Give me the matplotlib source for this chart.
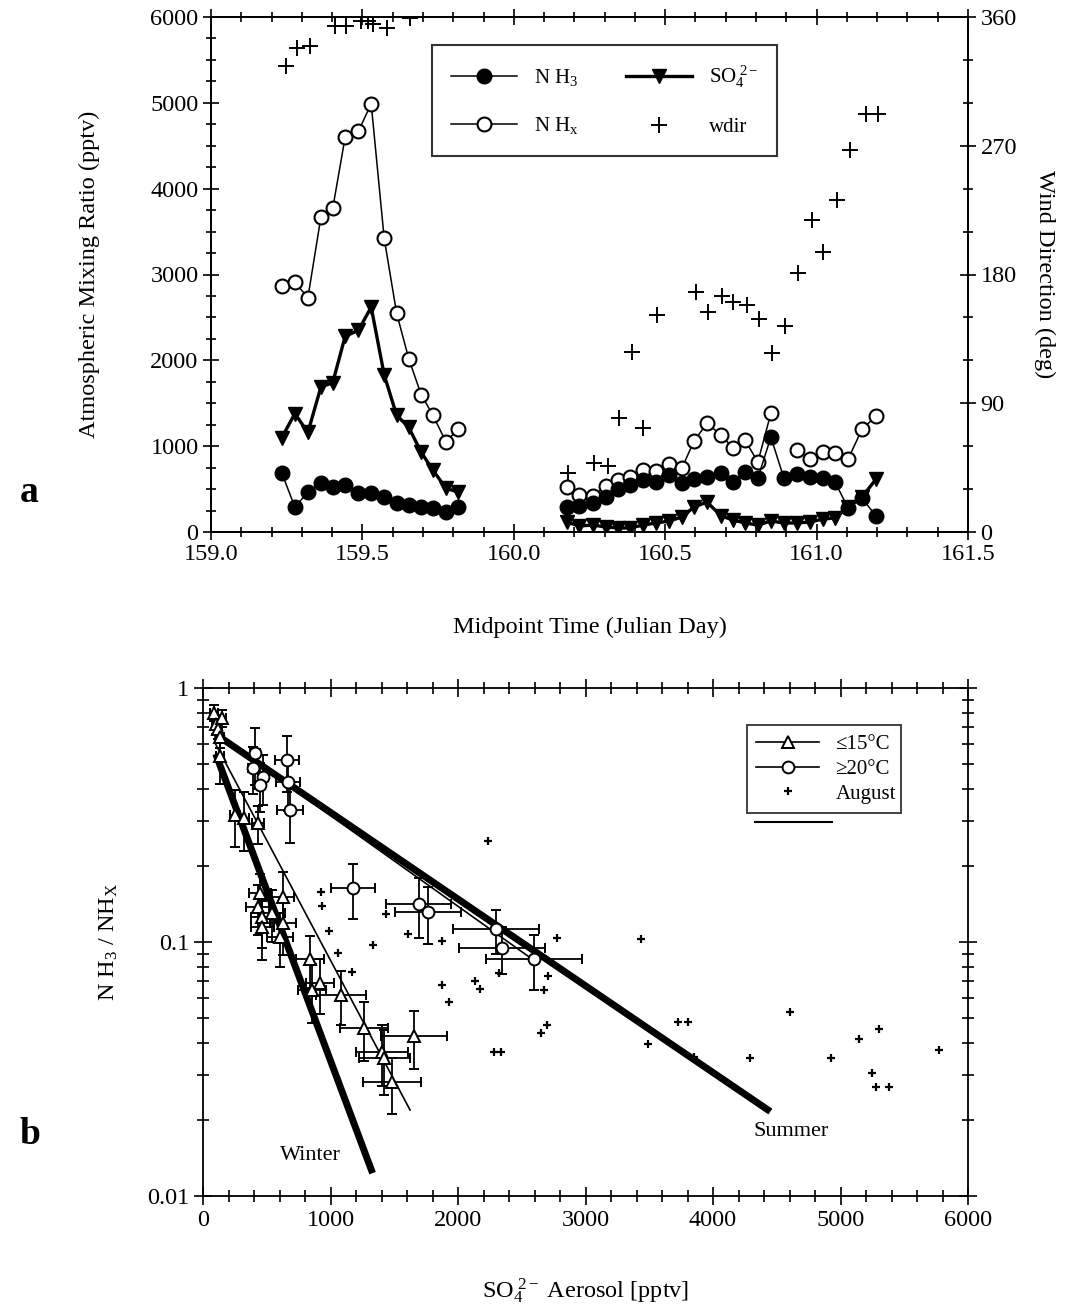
import numpy as np
import matplotlib
matplotlib.use("Agg")
import matplotlib.pyplot as plt
from matplotlib.lines import Line2D
from matplotlib.ticker import MultipleLocator, FixedLocator, FixedFormatter, LogLocator, NullFormatter

plt.rcParams['font.family'] = ['Liberation Serif', 'DejaVu Serif']
plt.rcParams['mathtext.fontset'] = 'custom'
plt.rcParams['mathtext.rm'] = 'Liberation Serif'
plt.rcParams['mathtext.it'] = 'Liberation Serif:italic'
plt.rcParams['mathtext.bf'] = 'Liberation Serif:bold'

# ---------------- Panel a data ----------------
t_left = [159.234, 159.277, 159.320, 159.363, 159.402, 159.443, 159.487, 159.529,
          159.572, 159.613, 159.653, 159.694, 159.733, 159.776, 159.816]
nh3_left = [686, 290, 465, 570, 523, 546, 453, 453, 407, 337, 314, 290, 279, 233, 290]
nhx_left = [2870, 2910, 2730, 3670, 3770, 4600, 4670, 4990, 3420, 2550, 2020, 1600,
            1360, 1050, 1200]
so4_left = [1100, 1380, 1160, 1690, 1740, 2280, 2350, 2620, 1830, 1360, 1220, 930,
            720, 510, 465]

t_right = [160.176, 160.215, 160.262, 160.304, 160.344, 160.384, 160.427, 160.470,
           160.513, 160.555, 160.595, 160.638, 160.685, 160.724, 160.764, 160.806,
           160.849, 160.892, 160.935, 160.978, 161.021, 161.061, 161.104, 161.150,
           161.196]
nh3_right = [291, 302, 337, 407, 500, 547, 605, 581, 663, 570, 616, 640, 686, 581,
             698, 628, 1105, 628, 674, 640, 628, 581, 279, 395, 186]
nhx_right = [523, 430, 419, 535, 605, 640, 721, 709, 791, 744, 1058, 1267, 1128, 977,
             1070, 814, 1384, np.nan, 953, 849, 930, 919, 849, 1198, 1349]
so4_right = [116, 70, 81, 58, 47, 47, 81, 105, 128, 174, 291, 349, 186, 140, 105, 81,
             128, 105, 105, 116, 151, 163, 291, 407, 616]

t_wdir = [159.248, 159.284, 159.327, 159.410, 159.446, 159.495, 159.518, 159.535,
          159.581, 159.657, 160.179, 160.265, 160.311, 160.347, 160.390, 160.427,
          160.473, 160.602, 160.641, 160.688, 160.724, 160.770, 160.810, 160.853,
          160.896, 160.939, 160.985, 161.021, 161.067, 161.110, 161.163, 161.203]
wdir = [326, 338, 340, 354, 354, 357, 357, 355, 352, 359, 41, 48, 46, 80, 126, 73,
        152, 168, 154, 165, 161, 159, 149, 125, 144, 181, 218, 196, 232, 267, 292, 292]

# ---------------- Panel b data ----------------
cold_x = [86, 100, 149, 118, 133, 133, 251, 322, 431,
          447, 627, 431, 541, 463, 627, 463, 604,
          839, 918, 855, 1082, 1263, 1404, 1420, 1655, 1482]
cold_y = [0.80, 0.72, 0.76, 0.69, 0.64, 0.54, 0.316, 0.308, 0.294,
          0.156, 0.150, 0.137, 0.130, 0.125, 0.119, 0.115, 0.105,
          0.086, 0.069, 0.065, 0.062, 0.046, 0.037, 0.035, 0.0426, 0.028]
cold_xerr = [30, 30, 30, 30, 30, 30, 40, 40, 50,
             90, 90, 90, 100, 90, 100, 90, 100,
             110, 110, 110, 195, 190, 205, 200, 260, 230]
cold_yerr = [0.06, 0.06, 0.06, 0.06, 0.06, 0.12, 0.08, 0.08, 0.05,
             0.03, 0.038, 0.03, 0.03, 0.03, 0.03, 0.03, 0.025,
             0.02, 0.017, 0.017, 0.015, 0.012, 0.01, 0.01, 0.011, 0.007]

warm_x = [408, 392, 470, 447, 659, 667, 682, 1176, 1694, 1765, 2298, 2345, 2596]
warm_y = [0.555, 0.484, 0.446, 0.415, 0.52, 0.427, 0.331, 0.163, 0.141, 0.131,
          0.112, 0.095, 0.086]
warm_xerr = [40, 40, 40, 40, 95, 95, 100, 170, 255, 260, 335, 340, 375]
warm_yerr = [0.14, 0.1, 0.1, 0.09, 0.13, 0.1, 0.085, 0.04, 0.037, 0.033, 0.022,
             0.02, 0.021]

aug_x = [2235, 925, 933, 1435, 988, 1608, 1875, 1333, 1059, 1169, 1875, 2133, 2173,
         1929, 2322, 2776, 2706, 2675, 3435, 3725, 3804, 3490, 3851, 4290, 4604,
         4925, 5145, 5302, 5247, 5278, 5380, 5773, 2280, 2340, 2650, 2700]
aug_y = [0.250, 0.157, 0.139, 0.129, 0.110, 0.108, 0.101, 0.097, 0.0905, 0.0762,
         0.0677, 0.0702, 0.0653, 0.0580, 0.0755, 0.1037, 0.0735, 0.0647, 0.1027,
         0.0484, 0.0484, 0.0397, 0.0353, 0.0349, 0.0530, 0.0349, 0.0415, 0.0454,
         0.0305, 0.0269, 0.0269, 0.0376, 0.037, 0.037, 0.044, 0.047]

summer_fit_x = [100, 4450]
summer_fit_y = [0.657, 0.0215]
winter_fit_x = [100, 1330]
winter_fit_y = [0.55, 0.0123]
cold_fit_x = [100, 1624]
cold_fit_y = [0.60, 0.0218]
warm_fit_x = [100, 2620]
warm_fit_y = [0.66, 0.083]

# ---------------- Figure ----------------
fig = plt.figure(figsize=(10.77, 13.12), dpi=100)
FS = 17.5

# ===== Panel a =====
ax = fig.add_axes([211/1077, 1 - 532/1312, 757/1077, 515/1312])
ax2 = ax.twinx()

for t, n3, nx, s4 in [(t_left, nh3_left, nhx_left, so4_left),
                      (t_right, nh3_right, nhx_right, so4_right)]:
    ax.plot(t, s4, '-', color='k', lw=2.4, marker='v', ms=10, mfc='k', mec='k', zorder=3)
    ax.plot(t, nx, '-', color='k', lw=1.1, marker='o', ms=10, mfc='white', mec='k',
            mew=1.5, zorder=4)
    ax.plot(t, n3, '-', color='k', lw=1.1, marker='o', ms=10.5, mfc='k', mec='k', zorder=5)

ax2.plot(t_wdir, wdir, ls='none', marker='+', ms=11, mew=1.4, color='k')

ax.set_xlim(159.0, 161.5)
ax.set_ylim(0, 6000)
ax2.set_ylim(0, 360)
ax.xaxis.set_major_locator(MultipleLocator(0.5))
ax.xaxis.set_minor_locator(MultipleLocator(0.1))
ax.xaxis.set_major_formatter(matplotlib.ticker.FormatStrFormatter('%.1f'))
ax.yaxis.set_major_locator(MultipleLocator(1000))
ax.yaxis.set_minor_locator(MultipleLocator(250))
ax2.yaxis.set_major_locator(MultipleLocator(90))
ax2.yaxis.set_minor_locator(MultipleLocator(30))
ax.tick_params(which='both', direction='inout', top=True, right=False, labelsize=FS,
               width=1.2)
ax.tick_params(which='major', length=11)
ax.tick_params(which='minor', length=7)
ax2.tick_params(which='both', direction='inout', labelsize=FS, width=1.2)
ax2.tick_params(which='major', length=11)
ax2.tick_params(which='minor', length=7)
for a in (ax, ax2):
    for s in a.spines.values():
        s.set_linewidth(1.3)

ax.set_ylabel('Atmospheric Mixing Ratio (pptv)', fontsize=FS)
ax.yaxis.set_label_coords(-0.147, 0.5)
ax2.set_ylabel('Wind Direction (deg)', fontsize=FS, rotation=270)
ax2.yaxis.set_label_coords(1.115, 0.5)
ax.set_xlabel('Midpoint Time (Julian Day)', fontsize=FS)
ax.xaxis.set_label_coords(0.5, -0.165)

h_nh3 = Line2D([], [], color='k', lw=1.1, marker='o', ms=10.5, mfc='k', mec='k')
h_nhx = Line2D([], [], color='k', lw=1.1, marker='o', ms=10, mfc='white', mec='k', mew=1.5)
h_so4 = Line2D([], [], color='k', lw=2.4, marker='v', ms=10, mfc='k', mec='k')
h_wd = Line2D([], [], ls='none', marker='+', ms=11, mew=1.4, color='k')
leg = ax2.legend([h_nh3, h_nhx, h_so4, h_wd],
                 [r'N H$_3$', r'N H$_\mathrm{x}$', r'SO$_4^{\ 2-}$', 'wdir'],
                 ncol=2, loc='upper left', bbox_to_anchor=(0.292, 0.946, 0.456, 0.0),
                 mode='expand', fontsize=15, frameon=True, fancybox=False,
                 edgecolor='k', handlelength=3.2, labelspacing=1.3, borderpad=0.9,
                 borderaxespad=0.0, columnspacing=1.5)
leg.get_frame().set_linewidth(1.5)
leg.set_zorder(10)

fig.text(20/1077, 1 - 492/1312, 'a', fontsize=27, fontweight='bold', va='center')

# ===== Panel b =====
bx = fig.add_axes([203/1077, 1 - 1196/1312, 765/1077, 508/1312])
bx.set_yscale('log')

bx.plot(summer_fit_x, summer_fit_y, '-', color='k', lw=5, solid_capstyle='butt', zorder=2)
bx.plot(winter_fit_x, winter_fit_y, '-', color='k', lw=5, solid_capstyle='butt', zorder=2)
bx.plot(cold_fit_x, cold_fit_y, '-', color='k', lw=1.2, zorder=2)
bx.plot(warm_fit_x, warm_fit_y, '-', color='k', lw=1.2, zorder=2)

bx.errorbar(cold_x, cold_y, xerr=cold_xerr, yerr=cold_yerr, fmt='^', ms=8, mfc='white',
            mec='k', mew=1.4, ecolor='k', elinewidth=1.3, capsize=3.5, capthick=1.3,
            zorder=4)
bx.errorbar(warm_x, warm_y, xerr=warm_xerr, yerr=warm_yerr, fmt='o', ms=8.5, mfc='white',
            mec='k', mew=1.4, ecolor='k', elinewidth=1.3, capsize=3.5, capthick=1.3,
            zorder=4)
bx.plot(aug_x, aug_y, ls='none', marker='+', ms=6, mew=1.6, color='k', zorder=3)

bx.set_xlim(0, 6000)
bx.set_ylim(0.01, 1)
bx.xaxis.set_major_locator(MultipleLocator(1000))
bx.xaxis.set_minor_locator(MultipleLocator(200))
bx.yaxis.set_major_locator(FixedLocator([0.01, 0.1, 1]))
bx.yaxis.set_major_formatter(FixedFormatter(['0.01', '0.1', '1']))
bx.yaxis.set_minor_locator(LogLocator(base=10, subs=np.arange(2, 10)))
bx.yaxis.set_minor_formatter(NullFormatter())
bx.tick_params(which='both', direction='inout', top=True, right=True, labelsize=FS,
               width=1.2)
bx.tick_params(which='major', length=13)
bx.tick_params(which='minor', length=8)
for s in bx.spines.values():
    s.set_linewidth(1.3)

bx.set_ylabel(r'N H$_3$ / NH$_\mathrm{X}$', fontsize=FS)
bx.yaxis.set_label_coords(-0.108, 0.5)
bx.set_xlabel(r'SO$_4^{\ 2-}$ Aerosol [pptv]', fontsize=FS)
bx.xaxis.set_label_coords(0.5, -0.16)

bx.text(839, 0.0145, 'Winter', fontsize=16, ha='center', va='center')
bx.text(4612, 0.018, 'Summer', fontsize=16, ha='center', va='center')

hc = Line2D([], [], color='k', lw=1.2, marker='^', ms=8, mfc='white', mec='k', mew=1.4)
hw = Line2D([], [], color='k', lw=1.2, marker='o', ms=8.5, mfc='white', mec='k', mew=1.4)
ha = Line2D([], [], ls='none', marker='+', ms=6, mew=1.6, color='k')
leg2 = bx.legend([hc, hw, ha], ['≤15°C', '≥20°C', 'August'], loc='upper left',
                 bbox_to_anchor=(0.711, 0.927, 0.201, 0.0), mode='expand', fontsize=15,
                 frameon=True, fancybox=False, edgecolor='k', handlelength=3.0,
                 labelspacing=0.25, borderpad=0.45, borderaxespad=0.0)
leg2.get_frame().set_linewidth(1.3)
bx.add_line(Line2D([0.722, 0.822], [0.736, 0.736], transform=bx.transAxes, color='k',
                   lw=1.5))

fig.text(20/1077, 1 - 1135/1312, 'b', fontsize=27, fontweight='bold', va='center')

fig.savefig('out.png', dpi=100)
